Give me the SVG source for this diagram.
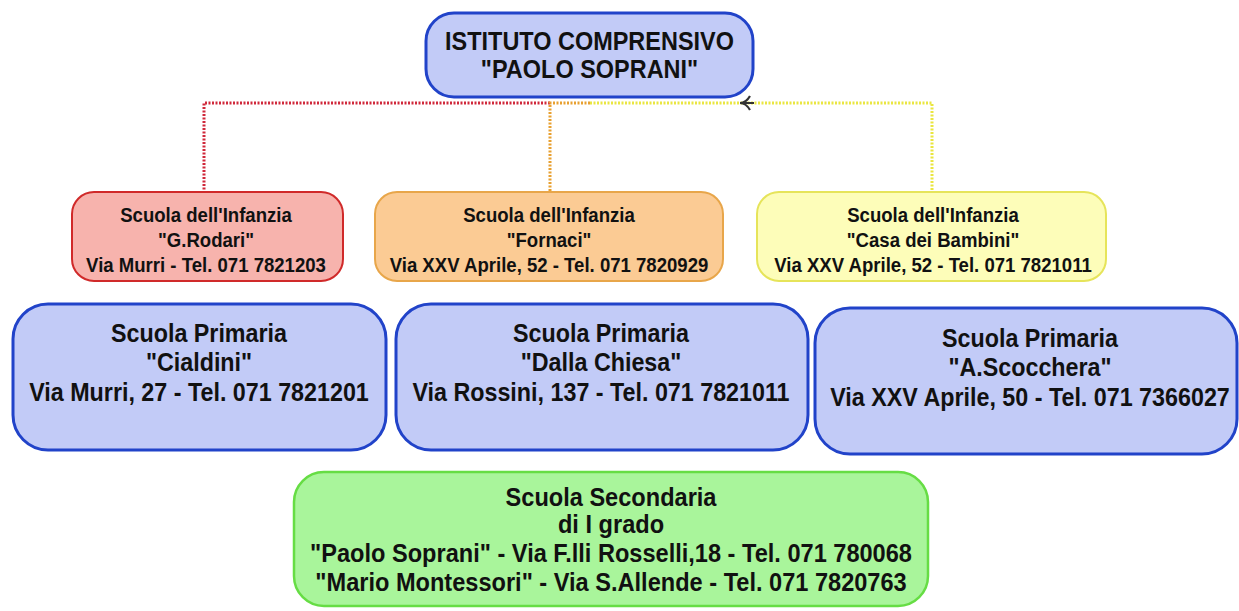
<svg xmlns="http://www.w3.org/2000/svg" width="1239" height="611" viewBox="0 0 1239 611">
<style>
text{font-family:"Liberation Sans",Arial,sans-serif;font-weight:bold;fill:#111;text-anchor:middle}
.blue{fill:#c2cbf7;stroke:#2143c9;stroke-width:3}
.red{fill:#f7b3ad;stroke:#d02a2a;stroke-width:2}
.orange{fill:#fbcb94;stroke:#e8a64a;stroke-width:2}
.yellow{fill:#fdfdb9;stroke:#e6e45a;stroke-width:2}
.green{fill:#a9f59b;stroke:#66dd44;stroke-width:2.5}
.c{fill:none;stroke-width:3;stroke-dasharray:2 1.5}
.t1{font-size:25.5px}
.ti{font-size:20.5px}
.tp{font-size:25.5px}
.ts{font-size:25.5px}
</style>
<rect width="1239" height="611" fill="#ffffff"/>
<g id="connectors">
<path class="c" stroke="#d0283a" d="M550 103 H204 V191"/>
<path class="c" stroke="#e8a030" d="M590 103 H550 V192"/>
<path class="c" stroke="#eae640" d="M590 103 H932 V191"/>
<path d="M750 96 Q746 103 740 103 Q746 103 750 110 M740 103 H754" fill="none" stroke="#333" stroke-width="2.2"/>
</g>
<g id="istituto">
<rect class="blue" x="426" y="13" width="327" height="84" rx="28"/>
<g transform="translate(589.5 0) scale(0.92 1)">
<text class="t1" x="0" y="50">ISTITUTO COMPRENSIVO</text>
<text class="t1" x="0" y="78">"PAOLO SOPRANI"</text>
</g>
</g>
<g id="infanzia-rodari">
<rect class="red" x="72" y="192" width="271" height="89" rx="22"/>
<g transform="translate(206 0) scale(0.907 1)">
<text class="ti" x="0" y="222">Scuola dell'Infanzia</text>
<text class="ti" x="0" y="247">"G.Rodari"</text>
<text class="ti" x="0" y="272">Via Murri - Tel. 071 7821203</text>
</g>
</g>
<g id="infanzia-fornaci">
<rect class="orange" x="375" y="192" width="348" height="89" rx="22"/>
<g transform="translate(549 0) scale(0.907 1)">
<text class="ti" x="0" y="222">Scuola dell'Infanzia</text>
<text class="ti" x="0" y="247">"Fornaci"</text>
<text class="ti" x="0" y="272">Via XXV Aprile, 52 - Tel. 071 7820929</text>
</g>
</g>
<g id="infanzia-casa">
<rect class="yellow" x="757" y="192" width="349" height="89" rx="22"/>
<g transform="translate(933 0) scale(0.907 1)">
<text class="ti" x="0" y="222">Scuola dell'Infanzia</text>
<text class="ti" x="0" y="247">"Casa dei Bambini"</text>
<text class="ti" x="0" y="272">Via XXV Aprile, 52 - Tel. 071 7821011</text>
</g>
</g>
<g id="primaria-cialdini">
<rect class="blue" x="13" y="304" width="373" height="146" rx="35"/>
<g transform="translate(199 0) scale(0.914 1)">
<text class="tp" x="0" y="342">Scuola Primaria</text>
<text class="tp" x="0" y="371">"Cialdini"</text>
<text class="tp" x="0" y="401">Via Murri, 27 - Tel. 071 7821201</text>
</g>
</g>
<g id="primaria-dallachiesa">
<rect class="blue" x="396" y="304" width="412" height="146" rx="35"/>
<g transform="translate(601 0) scale(0.914 1)">
<text class="tp" x="0" y="342">Scuola Primaria</text>
<text class="tp" x="0" y="371">"Dalla Chiesa"</text>
<text class="tp" x="0" y="401">Via Rossini, 137 - Tel. 071 7821011</text>
</g>
</g>
<g id="primaria-scocchera">
<rect class="blue" x="815" y="308" width="422" height="146" rx="35"/>
<g transform="translate(1030 0) scale(0.914 1)">
<text class="tp" x="0" y="347">Scuola Primaria</text>
<text class="tp" x="0" y="376">"A.Scocchera"</text>
<text class="tp" x="0" y="406">Via XXV Aprile, 50 - Tel. 071 7366027</text>
</g>
</g>
<g id="secondaria">
<rect class="green" x="294" y="472" width="634" height="134" rx="30"/>
<g transform="translate(611 0) scale(0.925 1)">
<text class="ts" x="0" y="506">Scuola Secondaria</text>
<text class="ts" x="0" y="533">di I grado</text>
<text class="ts" x="0" y="562">"Paolo Soprani" - Via F.lli Rosselli,18 - Tel. 071 780068</text>
<text class="ts" x="0" y="591">"Mario Montessori" - Via S.Allende - Tel. 071 7820763</text>
</g>
</g>
</svg>
